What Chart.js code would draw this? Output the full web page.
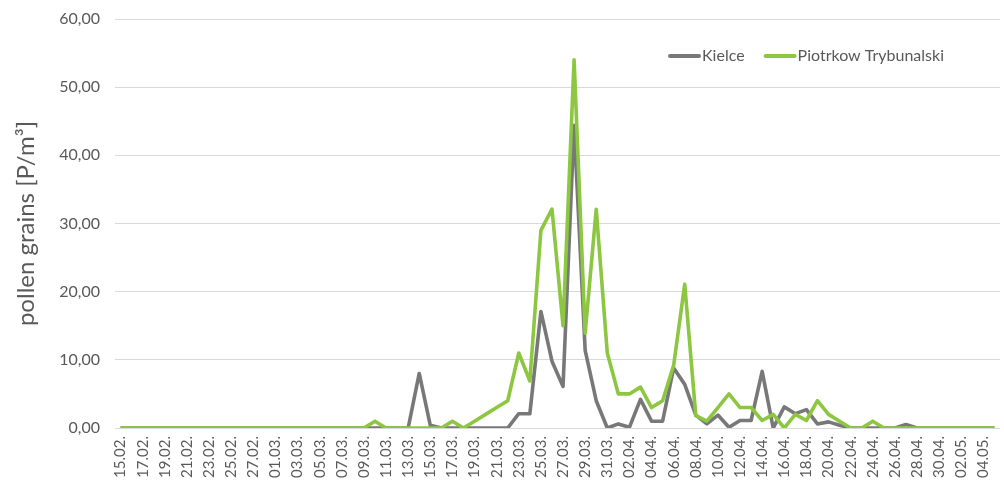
<!DOCTYPE html>
<html>
<head>
<meta charset="utf-8">
<title>Pollen concentration – Kielce and Piotrkow Trybunalski</title>
<script src="https://cdn.jsdelivr.net/npm/chart.js@4/dist/chart.umd.min.js"></script>
<style>
  html, body { margin: 0; padding: 0; background: #ffffff; }
  #wrap { width: 1004px; height: 486px; }
</style>
</head>
<body>
<div id="wrap"><canvas id="chart" width="1004" height="486"></canvas></div>
<script>
// Daily dates, 15 February – 5 May
const dates = [
  '15.02.','16.02.','17.02.','18.02.','19.02.','20.02.','21.02.','22.02.','23.02.','24.02.',
  '25.02.','26.02.','27.02.','28.02.','01.03.','02.03.','03.03.','04.03.','05.03.','06.03.',
  '07.03.','08.03.','09.03.','10.03.','11.03.','12.03.','13.03.','14.03.','15.03.','16.03.',
  '17.03.','18.03.','19.03.','20.03.','21.03.','22.03.','23.03.','24.03.','25.03.','26.03.',
  '27.03.','28.03.','29.03.','30.03.','31.03.','01.04.','02.04.','03.04.','04.04.','05.04.',
  '06.04.','07.04.','08.04.','09.04.','10.04.','11.04.','12.04.','13.04.','14.04.','15.04.',
  '16.04.','17.04.','18.04.','19.04.','20.04.','21.04.','22.04.','23.04.','24.04.','25.04.',
  '26.04.','27.04.','28.04.','29.04.','30.04.','01.05.','02.05.','03.05.','04.05.','05.05.'
];

// Daily pollen concentration, Kielce [P/m3]
const kielce = [
  0, 0, 0, 0, 0, 0, 0, 0, 0, 0,
  0, 0, 0, 0, 0, 0, 0, 0, 0, 0,
  0, 0, 0, 0, 0, 0, 0, 8.0, 0.4, 0,
  0, 0, 0, 0, 0, 0, 2.1, 2.1, 17.1, 9.8,
  6.1, 44.4, 11.4, 4.0, 0, 0.6, 0.1, 4.2, 1.0, 1.0,
  8.8, 6.4, 1.9, 0.6, 1.9, 0.1, 1.1, 1.1, 8.3, 0,
  3.1, 2.1, 2.7, 0.6, 0.9, 0.4, 0, 0, 0, 0,
  0, 0.5, 0, 0, 0, 0, 0, 0, 0, 0
];

// Daily pollen concentration, Piotrkow Trybunalski [P/m3]
const piotrkow = [
  0, 0, 0, 0, 0, 0, 0, 0, 0, 0,
  0, 0, 0, 0, 0, 0, 0, 0, 0, 0,
  0, 0, 0, 1.0, 0, 0, 0, 0, 0, 0,
  1.0, 0, 1.0, 2.0, 3.0, 4.0, 11.0, 6.9, 29.0, 32.1,
  15.0, 54.0, 13.9, 32.1, 11.0, 5.0, 5.0, 6.0, 3.0, 4.0,
  9.2, 21.1, 1.8, 1.0, 3.0, 5.0, 3.0, 3.0, 1.1, 2.0,
  0, 2.0, 1.1, 4.0, 2.0, 1.0, 0, 0, 1.0, 0,
  0, 0, 0, 0, 0, 0, 0, 0, 0, 0
];

const yTicks = [0, 10, 20, 30, 40, 50, 60];

const TEXT = '#595959';
const GRID = '#D9D9D9';
const FONT = 'Lato, "Open Sans", "Liberation Sans", sans-serif';

// Legend drawn inside the plot, top right
const insideLegend = {
  id: 'insideLegend',
  afterDraw(chart) {
    const ctx = chart.ctx;
    const area = chart.chartArea;
    ctx.save();
    ctx.font = '16px ' + FONT;
    ctx.textBaseline = 'middle';
    let x = area.right - 331;
    const y = 56;
    chart.data.datasets.forEach((ds) => {
      ctx.strokeStyle = ds.borderColor;
      ctx.lineWidth = 4;
      ctx.lineCap = 'round';
      ctx.beginPath();
      ctx.moveTo(x + 1, y);
      ctx.lineTo(x + 30, y);
      ctx.stroke();
      x += 33;
      ctx.fillStyle = TEXT;
      ctx.fillText(ds.label, x, y);
      x += ctx.measureText(ds.label).width + 20;
    });
    ctx.restore();
  }
};

new Chart(document.getElementById('chart'), {
  type: 'line',
  data: {
    labels: dates,
    datasets: [
      {
        label: 'Kielce',
        data: kielce,
        borderColor: '#787878',
        backgroundColor: '#787878',
        borderWidth: 3.6,
        pointRadius: 0,
        tension: 0,
        borderJoinStyle: 'round',
        order: 1
      },
      {
        label: 'Piotrkow Trybunalski',
        data: piotrkow,
        borderColor: '#8DC641',
        backgroundColor: '#8DC641',
        borderWidth: 3.6,
        pointRadius: 0,
        tension: 0,
        borderJoinStyle: 'round',
        order: 0
      }
    ]
  },
  options: {
    responsive: false,
    animation: false,
    layout: { padding: { top: 19, right: 4, left: 0, bottom: 0 } },
    plugins: {
      legend: { display: false },
      tooltip: { enabled: false }
    },
    scales: {
      x: {
        type: 'category',
        offset: true,
        grid: { display: false, drawTicks: false },
        border: { display: false },
        ticks: {
          autoSkip: false,
          minRotation: 90,
          maxRotation: 90,
          padding: 8,
          color: TEXT,
          font: { family: FONT, size: 15 },
          callback: function (value, index) {
            return index % 2 === 0 ? this.getLabelForValue(value) : '';
          }
        },
        afterFit: (scale) => {
          scale.height = 58;
          scale.paddingLeft = 0;
          scale.paddingRight = 0;
        }
      },
      y: {
        min: 0,
        max: 60,
        grid: { color: GRID, lineWidth: 1, drawTicks: false },
        border: { display: false },
        afterBuildTicks: (scale) => { scale.ticks = yTicks.map(v => ({ value: v })); },
        ticks: {
          padding: 15,
          color: TEXT,
          font: { family: FONT, size: 16 },
          callback: (v) => v.toFixed(2).replace('.', ',')
        },
        title: {
          display: true,
          text: 'pollen grains [P/m³]',
          color: TEXT,
          font: { family: FONT, size: 24 },
          padding: { top: 12, bottom: 0 }
        },
        afterFit: (scale) => {
          scale.width = 115;
          scale.paddingTop = 0;
          scale.paddingBottom = 0;
        }
      }
    }
  },
  plugins: [insideLegend]
});
</script>
</body>
</html>
